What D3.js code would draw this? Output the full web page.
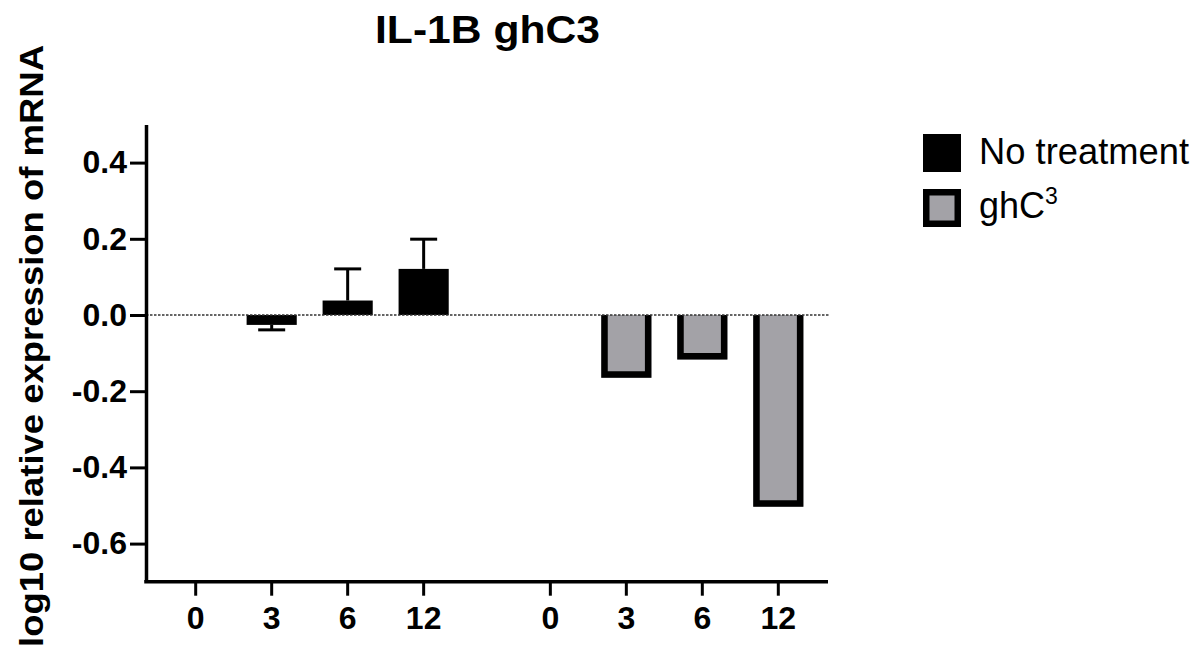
<!DOCTYPE html>
<html>
<head>
<meta charset="utf-8">
<script src="https://cdn.jsdelivr.net/npm/d3@7"></script>
<style>
  html, body { margin: 0; background: #fff; }
  svg { display: block; font-family: "Liberation Sans", Arial, Helvetica, sans-serif; }
</style>
</head>
<body>
<svg id="chart" width="1203" height="648"></svg>
<script>
// Hours after treatment
const times = ["0", "3", "6", "12"];
const groups = ["No treatment", "ghC3"];
// log10 relative expression of IL-1B mRNA
const noTreatment = [0, -0.026, 0.038, 0.121];
const noTreatmentErr = [0, 0.013, 0.083, 0.078];
const ghC3Values = [0, -0.165, -0.117, -0.503];
const yTicks = [-0.6, -0.4, -0.2, 0.0, 0.2, 0.4];

const svg = d3.select("#chart");
const BAR_FILL = { "No treatment": "#000000", "ghC3": "#a3a2a7" };
const BORDER = 6.5;
const TICK_FONT = 32;

const y = d3.scaleLinear().domain([-0.7, 0.5]).range([581.7, 124.5]);
const x0 = d3.scaleBand().domain(groups).range([146, 828])
  .paddingInner(0.143).paddingOuter(0.033);
const x1 = d3.scaleBand().domain(times).range([0, x0.bandwidth()])
  .paddingInner(0.34).paddingOuter(0.17);

const rows = [];
groups.forEach((g, gi) => times.forEach((t, i) => rows.push({
  group: g, time: t,
  value: gi === 0 ? noTreatment[i] : ghC3Values[i],
  err: gi === 0 ? noTreatmentErr[i] : 0
})));

// bars
const bars = svg.append("g");
bars.selectAll("rect").data(rows.filter(d => d.value !== 0)).join("rect")
  .attr("x", d => x0(d.group) + x1(d.time))
  .attr("width", x1.bandwidth())
  .attr("y", d => Math.min(y(d.value), y(0)))
  .attr("height", d => Math.abs(y(d.value) - y(0)))
  .attr("fill", d => BAR_FILL[d.group]);

// outlined bars: border on the three outer sides, drawn inside the bar
bars.selectAll("path.border").data(rows.filter(d => d.group === "ghC3" && d.value !== 0)).join("path")
  .attr("class", "border")
  .attr("fill", "none").attr("stroke", "#000").attr("stroke-width", BORDER)
  .attr("stroke-linejoin", "miter")
  .attr("d", d => {
    const xl = x0(d.group) + x1(d.time) + BORDER / 2;
    const xr = x0(d.group) + x1(d.time) + x1.bandwidth() - BORDER / 2;
    const s = d.value < 0 ? 1 : -1;
    const yb = y(d.value) - s * BORDER / 2;
    return `M${xl},${y(0)}L${xl},${yb}L${xr},${yb}L${xr},${y(0)}`;
  });

// error bars (one-sided, away from zero)
const errs = svg.append("g").attr("stroke", "#000").attr("stroke-width", 3);
rows.filter(d => d.err > 0).forEach(d => {
  const cx = x0(d.group) + x1(d.time) + x1.bandwidth() / 2;
  const end = d.value + Math.sign(d.value) * d.err;
  errs.append("line").attr("x1", cx).attr("x2", cx).attr("y1", y(d.value)).attr("y2", y(end));
  errs.append("line").attr("x1", cx - 13.5).attr("x2", cx + 13.5).attr("y1", y(end)).attr("y2", y(end));
});

// dotted baseline at zero
svg.append("line")
  .attr("x1", 146).attr("x2", 830).attr("y1", y(0)).attr("y2", y(0))
  .attr("stroke", "#333").attr("stroke-width", 1.3).attr("stroke-dasharray", "2.5 1.5");

// y axis
const yAxis = svg.append("g").attr("transform", "translate(146,0)")
  .call(d3.axisLeft(y).tickValues(yTicks).tickFormat(d => d.toFixed(1))
    .tickSize(16).tickSizeOuter(0).tickPadding(3));
yAxis.select(".domain").attr("stroke-width", 3.5);
yAxis.selectAll(".tick line").attr("stroke-width", 3);
yAxis.selectAll(".tick text").attr("font-size", TICK_FONT).attr("font-weight", "bold")
  .attr("font-family", "Liberation Sans, Arial, sans-serif").attr("fill", "#000");

// x axis
const xAxisY = y.range()[0];
const xAxis = svg.append("g");
xAxis.append("line").attr("x1", 144.25).attr("x2", 828).attr("y1", xAxisY).attr("y2", xAxisY)
  .attr("stroke", "#000").attr("stroke-width", 3.5);
const xt = xAxis.selectAll("g.tick").data(rows).join("g").attr("class", "tick")
  .attr("transform", d => `translate(${x0(d.group) + x1(d.time) + x1.bandwidth() / 2},${xAxisY})`);
xt.append("line").attr("y2", 14).attr("stroke", "#000").attr("stroke-width", 3);
xt.append("text").attr("y", 47.5).attr("text-anchor", "middle")
  .attr("font-size", TICK_FONT).attr("font-weight", "bold").text(d => d.time);

// title
svg.append("text").attr("x", 487.5).attr("y", 43).attr("text-anchor", "middle")
  .attr("font-size", 39).attr("font-weight", "bold")
  .attr("textLength", 225).attr("lengthAdjust", "spacingAndGlyphs")
  .text("IL-1B ghC3");

// y axis title
svg.append("text").attr("transform", "translate(43,346) rotate(-90)")
  .attr("text-anchor", "middle").attr("font-size", 33).attr("font-weight", "bold")
  .attr("textLength", 602).attr("lengthAdjust", "spacingAndGlyphs")
  .text("log10 relative expression of mRNA");

// legend
const legend = svg.append("g");
legend.append("rect").attr("x", 923).attr("y", 134).attr("width", 38).attr("height", 38)
  .attr("fill", BAR_FILL["No treatment"]);
legend.append("rect").attr("x", 923 + BORDER / 2).attr("y", 189 + BORDER / 2)
  .attr("width", 38 - BORDER).attr("height", 38 - BORDER)
  .attr("fill", BAR_FILL["ghC3"]).attr("stroke", "#000").attr("stroke-width", BORDER);
legend.append("text").attr("x", 979).attr("y", 164).attr("font-size", 36)
  .attr("textLength", 210).attr("lengthAdjust", "spacingAndGlyphs")
  .text(groups[0]);
const lt = legend.append("text").attr("x", 979).attr("y", 218).attr("font-size", 36);
lt.append("tspan").text("ghC");
lt.append("tspan").attr("font-size", 23).attr("dy", -14).text("3");
</script>
</body>
</html>
